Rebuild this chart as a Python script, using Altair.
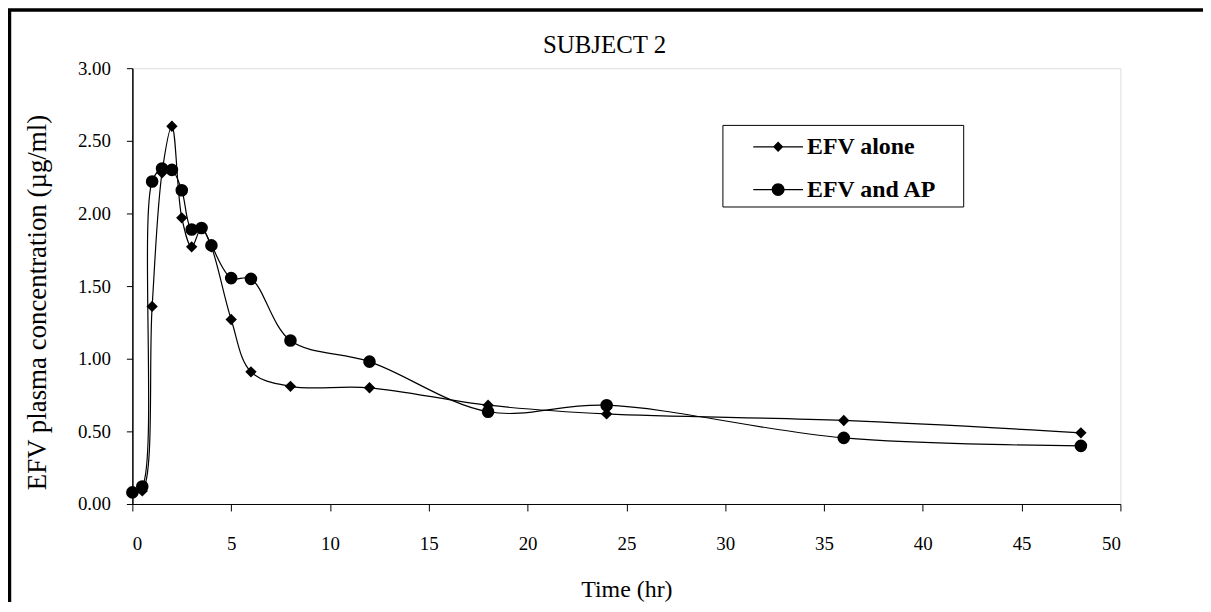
import altair as alt
import pandas as pd

time_hr = [0, 0.5, 1, 1.5, 2, 2.5, 3, 3.5, 4, 5, 6, 8, 12, 18, 24, 36, 48]
efv_alone = [0.08, 0.09, 1.36, 2.28, 2.60, 1.97, 1.77, 1.90, 1.77, 1.27, 0.91, 0.81, 0.80, 0.68, 0.62, 0.575, 0.49]
efv_ap = [0.08, 0.12, 2.22, 2.31, 2.30, 2.16, 1.89, 1.90, 1.78, 1.555, 1.55, 1.125, 0.98, 0.635, 0.68, 0.455, 0.40]
series_names = ["EFV alone", "EFV and AP"]

rows = []
for t, a, b in zip(time_hr, efv_alone, efv_ap):
    rows.append({"time": t, "conc": a, "series": series_names[0]})
    rows.append({"time": t, "conc": b, "series": series_names[1]})
df = pd.DataFrame(rows)

FONT = "Liberation Serif"

x_enc = alt.X("time:Q", title="Time (hr)",
              scale=alt.Scale(domain=[0, 50], nice=False),
              axis=alt.Axis(values=list(range(0, 51, 5)), grid=False,
                            tickSize=7, labelPadding=24, titlePadding=24,
                            labelFontSize=19, titleFontSize=24,
                            labelFont=FONT, titleFont=FONT, titleFontWeight="normal",
                            domainColor="black", tickColor="black",
                            labelColor="black", titleColor="black"))
y_enc = alt.Y("conc:Q", title="EFV plasma concentration (µg/ml)",
              scale=alt.Scale(domain=[0, 3], nice=False),
              axis=alt.Axis(values=[0, 0.5, 1, 1.5, 2, 2.5, 3], format=".2f", grid=False,
                            tickSize=6, labelPadding=16, titlePadding=26, titleY=235,
                            labelFontSize=19, titleFontSize=27,
                            labelFont=FONT, titleFont=FONT, titleFontWeight="normal",
                            domainColor="black", tickColor="black", domainWidth=1.5,
                            labelColor="black", titleColor="black"))

base = alt.Chart(df)

lines = base.mark_line(interpolate="catmull-rom", color="black", strokeWidth=1.2).encode(
    x=x_enc, y=y_enc, detail="series:N")

points = base.mark_point(filled=True, color="black", opacity=1).encode(
    x=x_enc, y=y_enc,
    shape=alt.Shape("series:N",
                    scale=alt.Scale(domain=series_names, range=["diamond", "circle"]),
                    legend=None),
    size=alt.condition(alt.datum.series == "EFV alone", alt.value(130), alt.value(160)))

# legend glyphs: thin filled bar (the line) plus marker, in symbol units (size 1000 -> 15.8 px per unit)
diamond_path = "M-1.58,-0.04H1.58V0.04H-1.58ZM-0.33,0L0,-0.33L0.33,0L0,0.33Z"
circle_path = ("M-1.58,-0.04H1.58V0.04H-1.58Z"
               "M0.41,0A0.41,0.41,0,1,1,-0.41,0A0.41,0.41,0,1,1,0.41,0Z")

legend_layer = base.transform_filter(alt.datum.time < 0).mark_point(
    filled=True, color="black", opacity=1).encode(
    x=x_enc, y=y_enc,
    shape=alt.Shape("series:N",
                    scale=alt.Scale(domain=series_names, range=[diamond_path, circle_path]),
                    legend=alt.Legend(
                        title="\u00a0", titleOrient="right", titlePadding=21, titleFontSize=2,
                        orient="none", legendX=593, legendY=57,
                        strokeColor="black", fillColor="white", padding=5,
                        symbolSize=1000, symbolOffset=34,
                        symbolFillColor="black", symbolStrokeColor="black",
                        labelFont=FONT, labelFontSize=24, labelFontWeight="bold",
                        labelColor="black", labelOffset=12, rowPadding=14)))

frame = alt.Chart(pd.DataFrame({"k": [0]})).mark_rect(
    fillOpacity=0, stroke="black", strokeWidth=3.5).encode(
    x=alt.value(-123.5), x2=alt.value(1300), y=alt.value(-58.5), y2=alt.value(800))

chart = alt.layer(frame, lines, points, legend_layer).resolve_scale(shape="independent").properties(
    width=993, height=438,
    title=alt.Title("SUBJECT 2", font=FONT, fontSize=25, fontWeight="normal",
                    color="black", anchor="middle", offset=6, dy=56, dx=-22),
    autosize=alt.AutoSizeParams(type="none"),
    padding={"left": 125, "top": 59, "right": 83, "bottom": 97},
).configure_view(stroke="#888888", strokeWidth=2.5).configure(background="white")

chart.save("out.html", embed_options={"renderer": "svg", "actions": False})
